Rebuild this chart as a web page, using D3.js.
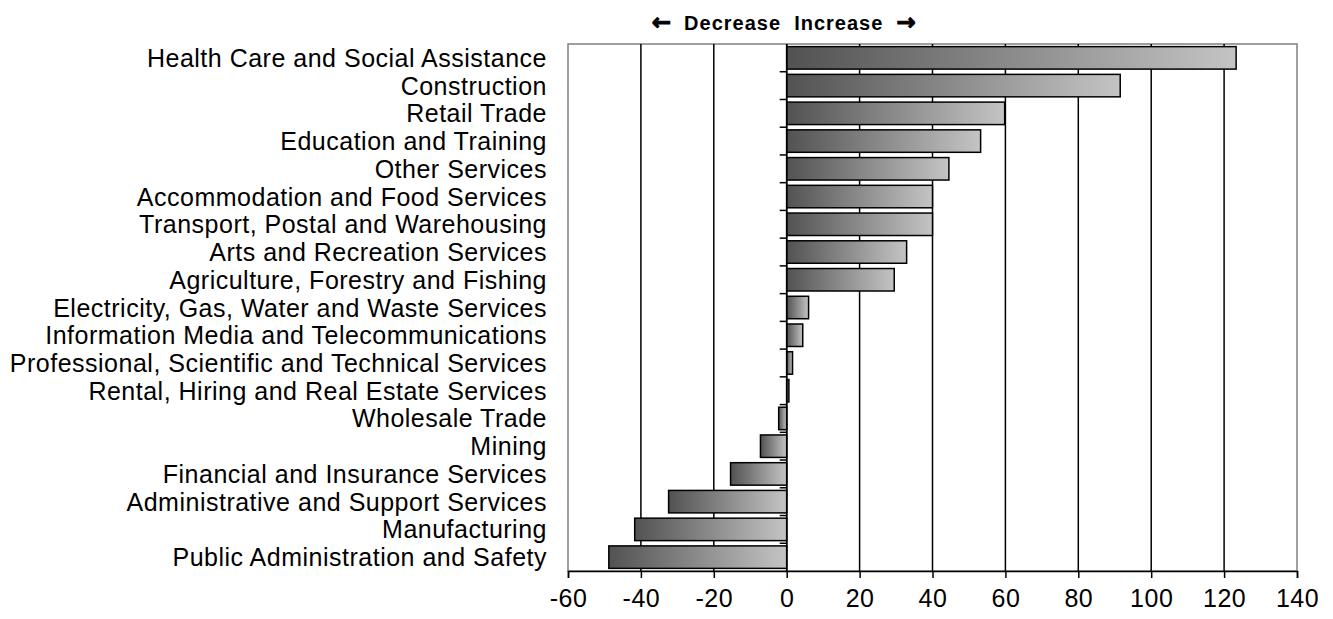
<!DOCTYPE html>
<html>
<head>
<meta charset="utf-8">
<script src="https://cdn.jsdelivr.net/npm/d3@7"></script>
<style>
  html, body { margin: 0; padding: 0; background: #fff; }
  svg { display: block; font-family: "Liberation Sans", Arial, sans-serif; }
</style>
</head>
<body>
<svg id="chart" width="1333" height="619"></svg>
<script>
// Industries, ordered from largest increase to largest decrease
const industries = [
  "Health Care and Social Assistance",
  "Construction",
  "Retail Trade",
  "Education and Training",
  "Other Services",
  "Accommodation and Food Services",
  "Transport, Postal and Warehousing",
  "Arts and Recreation Services",
  "Agriculture, Forestry and Fishing",
  "Electricity, Gas, Water and Waste Services",
  "Information Media and Telecommunications",
  "Professional, Scientific and Technical Services",
  "Rental, Hiring and Real Estate Services",
  "Wholesale Trade",
  "Mining",
  "Financial and Insurance Services",
  "Administrative and Support Services",
  "Manufacturing",
  "Public Administration and Safety"
];

// Change in employment ('000)
const change = [
  123.3, 91.5, 59.8, 53.2, 44.5, 40.0, 40.0, 32.9, 29.5,
  6.0, 4.4, 1.6, 0.6, -2.2, -7.2, -15.4, -32.4, -41.7, -48.8
];

const xTicks = [-60, -40, -20, 0, 20, 40, 60, 80, 100, 120, 140];

const svg = d3.select("#chart");
const plot = { left: 568, right: 1297, top: 44, bottom: 571 };

const x = d3.scaleLinear().domain([-60, 140]).range([plot.left, plot.right]);
const y = d3.scaleBand()
  .domain(industries)
  .range([plot.top, plot.bottom])
  .paddingInner(0.19)
  .paddingOuter(0.095);

// Horizontal grey gradient used by each bar
const defs = svg.append("defs");
const grad = defs.append("linearGradient")
  .attr("id", "barFill")
  .attr("x1", "0").attr("y1", "0").attr("x2", "1").attr("y2", "0");
grad.append("stop").attr("offset", "0%").attr("stop-color", "#525252");
grad.append("stop").attr("offset", "100%").attr("stop-color", "#c4c4c4");

// Plot frame
svg.append("rect")
  .attr("x", plot.left).attr("y", plot.top)
  .attr("width", plot.right - plot.left).attr("height", plot.bottom - plot.top)
  .attr("fill", "none").attr("stroke", "#808080").attr("stroke-width", 1.5);

// Vertical gridlines
svg.append("g")
  .selectAll("line")
  .data(xTicks.filter(d => d > -60 && d < 140))
  .join("line")
  .attr("x1", d => x(d)).attr("x2", d => x(d))
  .attr("y1", plot.top).attr("y2", plot.bottom)
  .attr("stroke", "#000").attr("stroke-width", 1.5);

// Bars
svg.append("g")
  .selectAll("rect")
  .data(industries)
  .join("rect")
  .attr("x", (d, i) => x(Math.min(0, change[i])))
  .attr("y", d => y(d))
  .attr("width", (d, i) => Math.abs(x(change[i]) - x(0)))
  .attr("height", y.bandwidth())
  .attr("fill", "url(#barFill)")
  .attr("stroke", "#000")
  .attr("stroke-width", 1.5);

// Category axis at zero with boundary ticks
const step = y.step();
const zero = x(0);
svg.append("line")
  .attr("x1", zero).attr("x2", zero)
  .attr("y1", plot.top).attr("y2", plot.bottom)
  .attr("stroke", "#000").attr("stroke-width", 1.5);
svg.append("g")
  .selectAll("line")
  .data(d3.range(1, industries.length))
  .join("line")
  .attr("x1", zero - 7).attr("x2", zero)
  .attr("y1", i => plot.top + i * step).attr("y2", i => plot.top + i * step)
  .attr("stroke", "#000").attr("stroke-width", 1.5);

// Category labels
svg.append("g")
  .selectAll("text")
  .data(industries)
  .join("text")
  .attr("x", 547)
  .attr("y", d => y(d) + y.bandwidth() / 2)
  .attr("dy", "0.36em")
  .attr("text-anchor", "end")
  .attr("font-size", 25)
  .attr("letter-spacing", 0.5)
  .attr("fill", "#000")
  .text(d => d);

// Value axis at the bottom
const xAxis = d3.axisBottom(x).tickValues(xTicks).tickSize(7).tickPadding(11)
  .tickFormat(d3.format("d"));
const gx = svg.append("g")
  .attr("transform", `translate(0,${plot.bottom})`)
  .call(xAxis);
gx.select(".domain").attr("stroke", "#000").attr("stroke-width", 1.5);
gx.selectAll(".tick line").attr("stroke", "#000").attr("stroke-width", 1.5);
gx.selectAll(".tick text")
  .attr("font-size", 25)
  .attr("font-family", "\"Liberation Sans\", Arial, sans-serif")
  .attr("letter-spacing", 0.5)
  .attr("fill", "#000")
  .text(d => d < 0 ? "-" + Math.abs(d) : String(d));

// Direction caption above the zero line
const caption = svg.append("text")
  .attr("x", zero - 3)
  .attr("y", 30)
  .attr("text-anchor", "middle")
  .attr("font-size", 20)
  .attr("font-weight", "bold")
  .attr("fill", "#000")
  .attr("xml:space", "preserve");
caption.append("tspan")
  .attr("font-family", "\"DejaVu Sans\", sans-serif")
  .attr("font-size", 23)
  .attr("stroke", "#000")
  .attr("stroke-width", 1)
  .text("\u2190");
caption.append("tspan")
  .attr("letter-spacing", 1)
  .text("  Decrease  Increase  ");
caption.append("tspan")
  .attr("font-family", "\"DejaVu Sans\", sans-serif")
  .attr("font-size", 23)
  .attr("stroke", "#000")
  .attr("stroke-width", 1)
  .text("\u2192");
</script>
</body>
</html>
